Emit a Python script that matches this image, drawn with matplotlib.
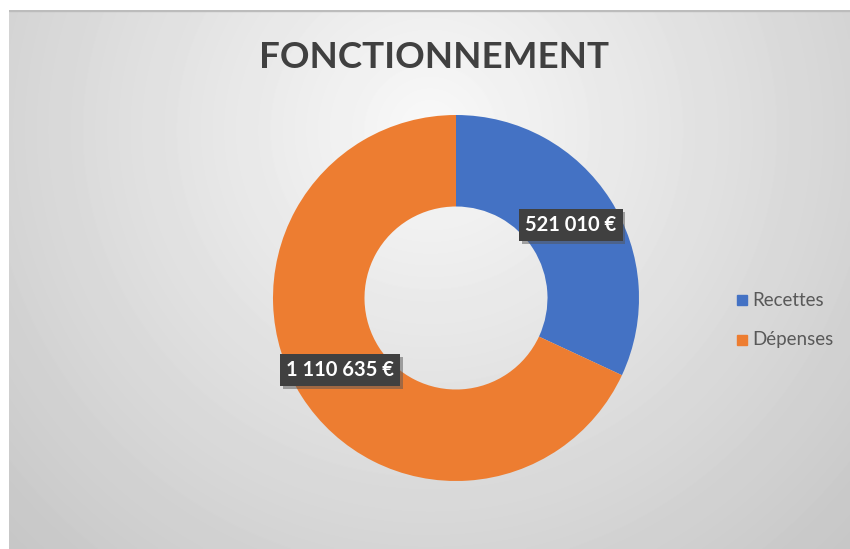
import numpy as np
import matplotlib
matplotlib.use("Agg")
import matplotlib.pyplot as plt
import matplotlib.patheffects as pe
from matplotlib.patches import Rectangle

categories = ["Recettes", "Dépenses"]
values = [521010, 1110635]
value_labels = ["521 010 €", "1 110 635 €"]
colors = ["#4472C4", "#ED7D31"]
title = "FONCTIONNEMENT"

W, H = 850, 549
fig = plt.figure(figsize=(W / 100, H / 100), dpi=100)
fig.patch.set_facecolor("white")

# radial grey background of the chart area
bg = fig.add_axes([9 / W, 0, 1 - 9 / W, 1 - 10 / H])
bg.set_axis_off()
yy, xx = np.mgrid[10:H, 9:W]
r = np.hypot(xx - 430, yy - 130)
shade = np.clip(0.975 - r * 0.2 / 600, 0, 1)
bg.imshow(shade, cmap="gray", vmin=0, vmax=1, aspect="auto",
          extent=[0, 1, 0, 1], interpolation="bilinear")
bg.set_xlim(0, 1)
bg.set_ylim(0, 1)
bg.add_patch(Rectangle((0, 0.998), 1, 0.002, color="#bcbcbc", transform=bg.transAxes))

fig.text(434 / W, 1 - 58 / H, title, ha="center", va="center",
         fontsize=26.5, fontweight="bold", color="#404040", family="Lato")

# donut
cx, cy, R = 456, 298, 183
ax = fig.add_axes([(cx - R) / W, 1 - (cy + R) / H, 2 * R / W, 2 * R / H])
ax.set_axis_off()
ax.pie(values, colors=colors, startangle=90, counterclock=False,
       radius=1, wedgeprops=dict(width=0.5, linewidth=0))
ax.set_xlim(-1, 1)
ax.set_ylim(-1, 1)

label_pos = [(571, 225), (340, 370)]
for (px, py), txt in zip(label_pos, value_labels):
    t = fig.text(px / W, 1 - py / H, txt, ha="center", va="center",
                 fontsize=14.5, fontweight="bold", color="white", family="Lato",
                 bbox=dict(boxstyle="square,pad=0.3", fc="#404040", ec="none"))
    t.get_bbox_patch().set_path_effects([
        pe.SimplePatchShadow(offset=(2, -2), shadow_rgbFace="#555555", alpha=0.5),
        pe.Normal()])

# legend
leg_y = [300, 340]
for yv, c, name in zip(leg_y, colors, categories):
    fig.patches.append(Rectangle((737 / W, 1 - (yv + 5) / H), 10 / W, 10 / H,
                                 color=c, transform=fig.transFigure))
    fig.text(752 / W, 1 - yv / H, name, ha="left", va="center",
             fontsize=13.5, color="#595959", family="Lato")

fig.savefig("out.png", dpi=100)
